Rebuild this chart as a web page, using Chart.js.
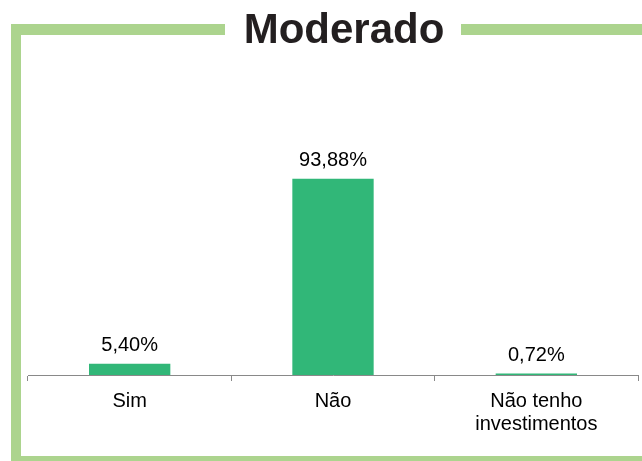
<!DOCTYPE html>
<html>
<head>
<meta charset="utf-8">
<script src="https://cdn.jsdelivr.net/npm/chart.js@4/dist/chart.umd.min.js"></script>
<style>
  html, body { margin: 0; padding: 0; background: #fff; }
  #wrap { width: 642px; height: 461px; position: relative; }
</style>
</head>
<body>
<div id="wrap"><canvas id="chart" width="642" height="461"></canvas></div>
<script>
const categories = ['Sim', 'Não', ['Não tenho', 'investimentos']];
const values = [5.40, 93.88, 0.72];
const valueLabels = ['5,40%', '93,88%', '0,72%'];
const chartTitle = 'Moderado';

const frameColor = '#acd48e';
const barColor = '#31b778';

// green frame + title drawn behind the chart
const framePlugin = {
  id: 'frame',
  beforeDraw(chart) {
    const ctx = chart.ctx;
    ctx.save();
    ctx.fillStyle = frameColor;
    ctx.fillRect(11, 24, 214, 11);
    ctx.fillRect(461, 24, 181, 11);
    ctx.fillRect(11, 24, 10, 437);
    ctx.fillRect(11, 456, 631, 5);
    ctx.fillStyle = '#231f20';
    ctx.font = 'bold 42px "Liberation Sans", Arial, sans-serif';
    ctx.textAlign = 'center';
    ctx.textBaseline = 'alphabetic';
    ctx.fillText(chartTitle, 344, 43);
    ctx.restore();
  }
};

// value labels above bars
const valueLabelPlugin = {
  id: 'valueLabels',
  afterDatasetsDraw(chart) {
    const ctx = chart.ctx;
    const meta = chart.getDatasetMeta(0);
    ctx.save();
    ctx.fillStyle = '#000';
    ctx.font = '20px "Liberation Sans", Arial, sans-serif';
    ctx.textAlign = 'center';
    ctx.textBaseline = 'alphabetic';
    meta.data.forEach((bar, i) => {
      ctx.fillText(valueLabels[i], bar.x, bar.y - 12.5);
    });
    ctx.restore();
  }
};

new Chart(document.getElementById('chart'), {
  type: 'bar',
  data: {
    labels: categories,
    datasets: [{
      data: values,
      backgroundColor: barColor,
      borderWidth: 0,
      barPercentage: 0.4,
      categoryPercentage: 1
    }]
  },
  options: {
    responsive: false,
    animation: false,
    layout: { padding: { left: 28, right: 4, top: 166, bottom: 0 } },
    plugins: {
      legend: { display: false },
      tooltip: { enabled: false }
    },
    scales: {
      x: {
        afterFit(scale) { scale.height = 86; },
        border: { display: true, color: '#898989', width: 1 },
        grid: {
          drawOnChartArea: false,
          drawTicks: true,
          tickLength: 6,
          color: '#898989'
        },
        ticks: {
          color: '#000',
          padding: 9,
          maxRotation: 0,
          font: { family: '"Liberation Sans", Arial, sans-serif', size: 20, lineHeight: 1.15 }
        }
      },
      y: {
        display: false,
        min: 0,
        max: 100
      }
    }
  },
  plugins: [framePlugin, valueLabelPlugin]
});
</script>
</body>
</html>
